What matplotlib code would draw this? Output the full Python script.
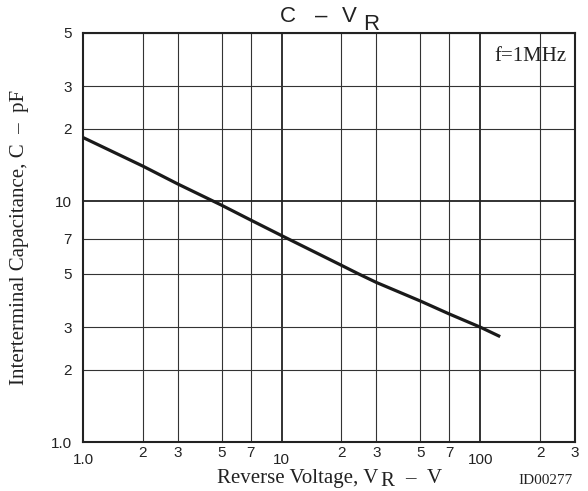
import matplotlib
matplotlib.use("Agg")
import matplotlib.pyplot as plt
from matplotlib.ticker import FixedLocator, FixedFormatter

# Capacitance vs. reverse voltage (f = 1 MHz)
vr_volts = [1, 2, 3, 5, 7, 10, 20, 24.3, 30, 50, 70, 100, 126]
cap_pf = [18.4, 14.0, 11.8, 9.62, 8.35, 7.2, 5.42, 5.0, 4.6, 3.85, 3.4, 3.0, 2.74]

x_major = [1, 10, 100]
x_major_labels = ["1.0", "10", "100"]
x_minor = [2, 3, 5, 7, 20, 30, 50, 70, 200, 300]
x_minor_labels = ["2", "3", "5", "7", "2", "3", "5", "7", "2", "3"]

y_major = [1, 10]
y_major_labels = ["1.0", "10"]
y_minor = [2, 3, 5, 7, 20, 30, 50]
y_minor_labels = ["2", "3", "5", "7", "2", "3", "5"]

SANS = "Liberation Sans"
SERIF = "Liberation Serif"
INK = "#222222"

W, H = 588, 491
fig = plt.figure(figsize=(W / 100, H / 100), dpi=100)
ax = fig.add_axes([83 / W, 1 - 442 / H, (575 - 83) / W, (442 - 33) / H])
ax.set_xscale("log")
ax.set_yscale("log")
ax.set_xlim(1, 300)
ax.set_ylim(1, 50)

ax.xaxis.set_major_locator(FixedLocator(x_major))
ax.xaxis.set_major_formatter(FixedFormatter(x_major_labels))
ax.xaxis.set_minor_locator(FixedLocator(x_minor))
ax.xaxis.set_minor_formatter(FixedFormatter(x_minor_labels))
ax.yaxis.set_major_locator(FixedLocator(y_major))
ax.yaxis.set_major_formatter(FixedFormatter(y_major_labels))
ax.yaxis.set_minor_locator(FixedLocator(y_minor))
ax.yaxis.set_minor_formatter(FixedFormatter(y_minor_labels))

ax.tick_params(axis="x", which="major", length=0, pad=8, labelsize=11, colors=INK)
ax.tick_params(axis="x", which="minor", length=0, pad=3, labelsize=11, colors=INK)
ax.tick_params(axis="y", which="both", length=0, pad=8, labelsize=11, colors=INK)
for lab in ax.get_xticklabels(which="both") + ax.get_yticklabels(which="both"):
    lab.set_fontfamily(SANS)

ax.grid(which="minor", color="#333333", linewidth=0.8)
ax.grid(which="major", color="#222222", linewidth=1.3)
ax.set_axisbelow(True)
for s in ax.spines.values():
    s.set_linewidth(1.5)
    s.set_color(INK)

ax.plot(vr_volts, cap_pf, color="#1a1a1a", linewidth=2.3, solid_capstyle="butt", zorder=3)

ax.text(567 / W, 1 - 61 / H, "f=1MHz", transform=fig.transFigure, ha="right",
        va="baseline", fontsize=15, family=SERIF, color=INK)


def place(s, x_px, base_px, size, family):
    """Left-aligned text at a pixel position (y measured from the top)."""
    fig.text(x_px / W, 1 - base_px / H, s, fontsize=size, family=family,
             color=INK, ha="left", va="baseline")


# title: C - V with subscript R
place("C", 280, 21.7, 16, SANS)
place("–", 315, 21.7, 16, SANS)
place("V", 342, 21.7, 16, SANS)
place("R", 363, 30, 16, SANS)

# x-axis label: Reverse Voltage, V_R - V
place("Reverse Voltage, V", 216.7, 483, 15, SERIF)
place("R", 380, 486, 15, SERIF)
place("–", 405, 483, 15, SERIF)
place("V", 426.7, 483, 15, SERIF)

fig.text(20 / W, 1 - 237 / H, "Interterminal Capacitance, C  –  pF", rotation=90,
         ha="center", va="center", fontsize=15, family=SERIF, color=INK)
fig.text(573 / W, 1 - 484 / H, "ID00277", ha="right", va="baseline",
         fontsize=11, family=SERIF, color=INK)

fig.savefig("out.png", dpi=100)
